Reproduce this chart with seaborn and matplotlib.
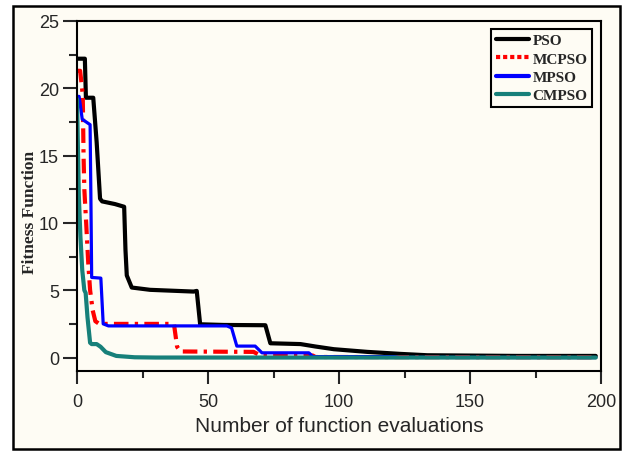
import pandas
import seaborn as sns
from matplotlib import pyplot as plt
from matplotlib.lines import Line2D
from matplotlib.patches import Rectangle
from matplotlib.ticker import MultipleLocator

# convergence curves
pso_x = [0, 3.0, 3.4, 6.2, 7.5, 8.8, 9.6, 14.5, 18.0, 18.5, 19.0, 20.9, 27.9, 44.5, 45.7, 47.0, 56.0,
         71.9, 73.8, 85.3, 91.0, 98.0, 110.8, 123.5, 133.7, 168.0, 198.0]
pso_y = [22.2, 22.2, 19.3, 19.3, 16.0, 11.8, 11.6, 11.4, 11.2, 8.0, 6.1, 5.2, 5.03, 4.9, 4.95, 2.47, 2.42,
         2.4, 1.06, 1.0, 0.82, 0.62, 0.42, 0.27, 0.17, 0.12, 0.12]

mcpso_x = [0, 1.2, 2.2, 2.5, 2.8, 3.5, 4.3, 5.0, 6.0, 7.0, 8.5, 37.0, 38.2, 39.5, 67.4, 70.0, 90.0, 91.0, 198.0]
mcpso_y = [21.3, 21.3, 19.5, 15.0, 12.5, 10.0, 7.0, 5.0, 3.5, 2.7, 2.5, 2.5, 0.8, 0.45, 0.42, 0.15, 0.15, 0.04, 0.02]

mpso_x = [0, 0.8, 2.0, 5.0, 5.3, 5.6, 9.1, 10.0, 12.0, 57.2, 59.0, 61.0, 68.0, 70.6, 88.5, 90.0, 121.0, 123.0, 198.0]
mpso_y = [19.4, 19.4, 17.7, 17.3, 12.0, 5.95, 5.9, 2.5, 2.35, 2.35, 2.2, 0.85, 0.85, 0.35, 0.35, 0.07, 0.07, 0.01, 0.0]

cmpso_x = [0, 0.7, 1.3, 2.0, 2.8, 3.3, 4.0, 5.0, 5.6, 7.5, 9.0, 11.0, 15.0, 22.0, 30.0, 198.0]
cmpso_y = [19.2, 12.0, 9.0, 6.5, 5.0, 4.8, 3.0, 1.1, 1.0, 1.0, 0.8, 0.4, 0.12, 0.02, 0.0, 0.0]

names = ['PSO', 'MCPSO', 'MPSO', 'CMPSO']
colors = ['#000000', '#ff0000', '#0000ff', '#17807a']

sns.set_style('ticks')
plt.rcParams['font.family'] = ['Liberation Sans', 'DejaVu Sans']
cream = '#fefcf4'

fig = plt.figure(figsize=(6.25, 4.52), dpi=100, facecolor='white')
fig.patches.append(Rectangle((13 / 625, 2 / 452), 607 / 625, 443 / 452, transform=fig.transFigure,
                             facecolor=cream, edgecolor='black', linewidth=1.8, zorder=-1))
ax = fig.add_axes([77 / 625, 80 / 452, 524 / 625, 350 / 452])
ax.set_facecolor(cream)

series = [(pso_x, pso_y), (mcpso_x, mcpso_y), (mpso_x, mpso_y), (cmpso_x, cmpso_y)]
styles = ['-', (0, (3.5, 1.5, 0.8, 1.5)), '-', '-']
widths = [3.0, 3.0, 2.3, 3.0]
for (xs, ys), name, c, ls, lw in zip(series, names, colors, styles, widths):
    df = pandas.DataFrame({'x': xs, 'y': ys})
    sns.lineplot(x='x', y='y', data=df, ax=ax, color=c, linestyle=ls, linewidth=lw,
                 estimator=None, sort=False, label=name)

ax.set_xlim(0, 200)
ax.set_ylim(-1, 25)
ax.xaxis.set_major_locator(MultipleLocator(50))
ax.xaxis.set_minor_locator(MultipleLocator(25))
ax.yaxis.set_major_locator(MultipleLocator(5))
ax.yaxis.set_minor_locator(MultipleLocator(2.5))
ax.tick_params(axis='y', which='major', direction='out', length=10, width=1.5, labelsize=13, pad=3)
ax.tick_params(axis='y', which='minor', direction='out', length=6, width=1.5)
ax.tick_params(axis='x', which='major', direction='out', length=9.5, width=1.5, labelsize=13, pad=6)
ax.tick_params(axis='x', which='minor', direction='out', length=5, width=1.5)
for sp in ax.spines.values():
    sp.set_visible(True)
    sp.set_linewidth(1.5)
    sp.set_color('black')

ax.set_xlabel('Number of function evaluations', fontsize=15, labelpad=5)
ax.set_ylabel('Fitness Function', fontsize=12.5, fontweight='bold', family=['Liberation Serif'])
ax.yaxis.set_label_coords(-0.074, 0.455)

handles = [Line2D([], [], color=colors[0], linewidth=3.0),
           Line2D([], [], color=colors[1], linewidth=3.0, linestyle=(0, (1, 0.7))),
           Line2D([], [], color=colors[2], linewidth=3.0),
           Line2D([], [], color=colors[3], linewidth=3.0)]
leg = ax.legend(handles, names, loc='upper right', bbox_to_anchor=(0.983, 0.977),
                prop={'family': 'Liberation Serif', 'weight': 'bold', 'size': 11},
                frameon=True, fancybox=False, edgecolor='black', facecolor=cream, framealpha=1,
                handlelength=2.2, handletextpad=0.2, labelspacing=0.3, borderpad=0.3,
                borderaxespad=0)
leg.get_frame().set_linewidth(1.5)

plt.savefig('out.png', dpi=100, facecolor='white')
